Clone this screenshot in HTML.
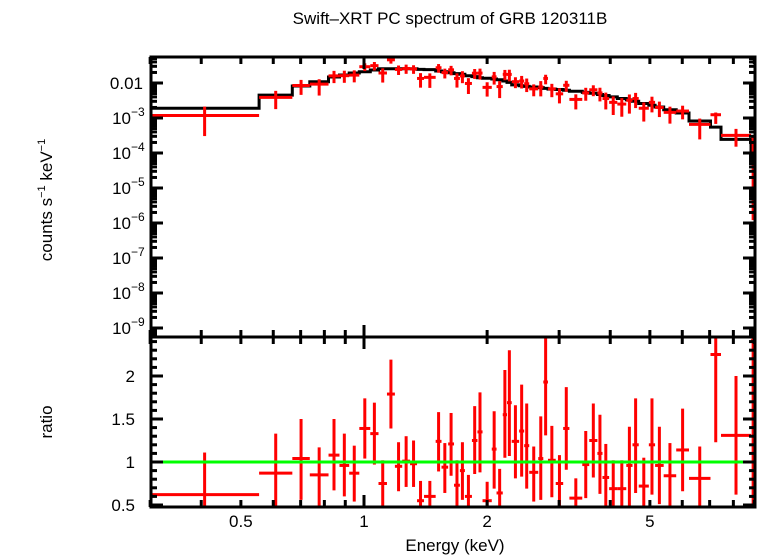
<!DOCTYPE html>
<html><head><meta charset="utf-8">
<style>
html,body{margin:0;padding:0;background:#fff;}
svg{display:block;font-family:"Liberation Sans",sans-serif;}
</style></head>
<body>
<svg id="chart" width="758" height="556" viewBox="0 0 758 556" xmlns="http://www.w3.org/2000/svg">
<text x="450" y="24" font-size="17" text-anchor="middle">Swift–XRT PC spectrum of GRB 120311B</text>
<text transform="translate(52,200) rotate(-90)" font-size="17" text-anchor="middle">counts s<tspan font-size="11" dy="-7">−1</tspan><tspan dy="7"> keV</tspan><tspan font-size="11" dy="-7">−1</tspan></text>
<text transform="translate(52,422) rotate(-90)" font-size="17" text-anchor="middle">ratio</text>
<text x="455" y="551" font-size="17" text-anchor="middle">Energy (keV)</text>
<g id="marks"></g>
<g id="axes"></g>
</svg>
<script>
const binEdges=[0.300,0.554,0.668,0.737,0.819,0.871,0.920,0.974,1.036,1.085,1.138,1.190,1.240,1.296,1.348,1.402,1.497,1.547,1.606,1.660,1.716,1.765,1.836,1.894,1.949,2.053,2.109,2.184,2.237,2.297,2.395,2.464,2.535,2.667,2.744,2.817,2.943,3.069,3.178,3.417,3.554,3.721,3.829,3.975,4.163,4.378,4.534,4.696,4.971,5.149,5.404,5.799,6.232,7.033,7.462,8.836,9.05];
const modelCounts=[1.9e-3,4.5e-3,8.2e-3,0.0109,0.0148,0.0169,0.0193,0.021,0.0235,0.0257,0.0257,0.0257,0.0257,0.0257,0.0245,0.0241,0.0220,0.0211,0.0197,0.0185,0.0177,0.0162,0.0152,0.0142,0.0136,0.0130,0.0124,0.0114,0.0104,8.8e-3,8.4e-3,8.0e-3,7.7e-3,7.4e-3,7.0e-3,6.7e-3,6.5e-3,6.2e-3,5.8e-3,5.4e-3,5.1e-3,4.7e-3,4.4e-3,4.0e-3,3.6e-3,3.3e-3,3.0e-3,2.6e-3,2.3e-3,2.06e-3,1.73e-3,1.39e-3,8.2e-4,5.5e-4,2.45e-4,1.2e-4];
const dataCounts=[1.18e-3,3.9e-3,8.5e-3,9.3e-3,0.0160,0.0162,0.0168,0.0292,0.0313,0.0193,0.0460,0.0244,0.0260,0.0252,0.0135,0.0145,0.0273,0.0198,0.0238,0.0135,0.0159,0.0097,0.0190,0.0192,0.0075,0.0150,0.0079,0.0177,0.0176,0.0109,0.0114,9.5e-3,6.8e-3,7.7e-3,0.0135,6.8e-3,4.9e-3,8.6e-3,3.4e-3,5.2e-3,6.4e-3,5.2e-3,3.6e-3,2.8e-3,2.5e-3,3.2e-3,3.6e-3,1.9e-3,2.8e-3,2.0e-3,1.45e-3,1.58e-3,6.6e-4,1.24e-3,3.2e-4,2.9e-4];
const ratioVals=[0.62,0.87,1.04,0.85,1.08,0.96,0.87,1.39,1.33,0.75,1.79,0.95,1.01,0.98,0.55,0.60,1.24,0.94,1.21,0.73,0.90,0.60,1.25,1.35,0.55,1.15,0.64,1.55,1.69,1.24,1.36,1.19,0.88,1.04,1.93,1.02,0.75,1.39,0.58,0.97,1.25,1.10,0.82,0.69,0.69,0.96,1.20,0.72,1.20,0.96,0.84,1.14,0.81,2.25,1.31,2.41];
const ratioLo=[0.16,0.4,0.56,0.4,0.67,0.60,0.54,1.04,0.97,0.4,1.39,0.66,0.71,0.71,0.3,0.3,0.89,0.64,0.84,0.4,0.56,0.3,0.86,0.88,0.3,0.69,0.3,1.05,1.07,0.81,0.83,0.69,0.54,0.56,1.31,0.59,0.4,0.91,0.3,0.58,0.82,0.63,0.4,0.3,0.3,0.4,0.64,0.3,0.62,0.51,0.4,0.66,0.3,1.23,0.62,0.01];
const ratioHi=[1.11,1.33,1.50,1.17,1.50,1.33,1.19,1.74,1.69,1.02,2.19,1.23,1.30,1.25,0.78,0.78,1.58,1.22,1.57,1.02,1.23,0.85,1.65,1.81,0.77,1.59,0.92,2.07,2.30,1.66,1.90,1.68,1.18,1.53,2.46,1.42,1.08,1.87,0.81,1.36,1.68,1.55,1.21,1.02,1.02,1.41,1.74,1.05,1.74,1.41,1.22,1.62,1.18,2.60,2.00,2.60];
const topTickLabels=["0.01","10","10","10","10","10","10","10"];
const topTickExps=["","−3","−4","−5","−6","−7","−8","−9"];
const ratioTicks=[0.5,1,1.5,2];
const xTickLabels=[0.5,1,2,5];

const L=151,R=755,T=57,MID=337,B=507;
const lx=e=>364+409*Math.log10(e);
const yTop=v=>83-35*(Math.log10(v)+2);
const yBot=r=>462-86*(r-1);
const NS="http://www.w3.org/2000/svg";
const marks=document.getElementById('marks'),axes=document.getElementById('axes');
function mk(tag,attrs,parent){const e=document.createElementNS(NS,tag);for(const k in attrs)e.setAttribute(k,attrs[k]);parent.appendChild(e);return e;}
const clampT=y=>Math.max(T,Math.min(MID,y));
const clampB=y=>Math.max(MID,Math.min(B,y));

let d="";
for(let i=0;i<modelCounts.length;i++){
  const x0=Math.max(L,lx(binEdges[i])),x1=Math.min(R,lx(binEdges[i+1])),y=clampT(yTop(modelCounts[i]));
  d+=(i===0?"M":"L")+x0.toFixed(1)+","+y.toFixed(1)+"L"+x1.toFixed(1)+","+y.toFixed(1);
}
d+="L"+R+","+MID;
const modelPath=mk('path',{d:d,fill:"none",stroke:"#000","stroke-width":3},marks);



for(let i=0;i<dataCounts.length;i++){
  const x0=Math.max(L,lx(binEdges[i])),x1=Math.min(R,lx(binEdges[i+1]));
  const xc=lx(Math.sqrt(binEdges[i]*binEdges[i+1]));
  const xcc=Math.min(R-1,xc);
  const g=mk('g',{stroke:"#f00","stroke-width":3},marks);
  
  
  const c=dataCounts[i],y=clampT(yTop(c));
  const lo=c*ratioLo[i]/ratioVals[i],hi=c*ratioHi[i]/ratioVals[i];
  mk('line',{x1:x0,x2:x1,y1:y,y2:y},g);
  mk('line',{x1:xcc,x2:xcc,y1:clampT(yTop(hi)),y2:clampT(yTop(lo))},g);
  const g2=mk('g',{stroke:"#f00","stroke-width":3},marks);
  
  
  const yr=clampB(yBot(ratioVals[i]));
  mk('line',{x1:x0,x2:x1,y1:yr,y2:yr},g2);
  mk('line',{x1:xcc,x2:xcc,y1:clampB(yBot(ratioHi[i])),y2:clampB(yBot(ratioLo[i]))},g2);
}
const unity=mk('line',{x1:L,x2:R,y1:yBot(1),y2:yBot(1),stroke:"#0f0","stroke-width":3},marks);



const f1=mk('rect',{x:L,y:T,width:R-L,height:MID-T,fill:"none",stroke:"#000","stroke-width":3},axes);


const f2=mk('rect',{x:L,y:MID,width:R-L,height:B-MID,fill:"none",stroke:"#000","stroke-width":3},axes);



const tk=mk('g',{stroke:"#000","stroke-width":3},axes);


for(let dec=0.1;dec<=1;dec*=10){
  for(let m=1;m<=9;m++){
    const e=m*dec;if(e<0.3||e>9.05)continue;
    const x=lx(e);const len=(Math.abs(e-1)<1e-6)?12:7;
    [T,MID,B].forEach(yy=>{
      if(yy!==T)mk('line',{x1:x,x2:x,y1:yy,y2:yy-len},tk);
      if(yy!==B)mk('line',{x1:x,x2:x,y1:yy,y2:yy+len},tk);
    });
  }
}
xTickLabels.forEach(v=>{
  const t=mk('text',{x:lx(v),y:527,"font-size":17,"text-anchor":"middle"},axes);
  t.textContent=String(v);
  
  
});
const ty=mk('g',{stroke:"#000","stroke-width":3},axes);


for(let p=-10;p<=-1;p++){
  for(let m=1;m<=9;m++){
    const v=m*Math.pow(10,p);const y=yTop(v);if(y<T||y>MID)continue;
    const len=m===1?12:6;
    mk('line',{x1:L,x2:L+len,y1:y,y2:y},ty);
    mk('line',{x1:R,x2:R-len,y1:y,y2:y},ty);
  }
}
topTickLabels.forEach((s,i)=>{
  const y=yTop(Math.pow(10,-2-i));
  const t=mk('text',{x:i===0?143:131,y:y+6,"font-size":17,"text-anchor":"end"},axes);
  t.textContent=s;
  
  
  if(topTickExps[i]){
    const e=mk('text',{x:131,y:y-2,"font-size":12,"text-anchor":"start"},axes);
    e.textContent=topTickExps[i];
    
    
  }
});
const by=mk('g',{stroke:"#000","stroke-width":3},axes);


for(let k=5;k<=24;k++){
  const r=k/10,y=yBot(r);if(y<MID||y>B)continue;
  const len=(k%5===0)?12:6;
  mk('line',{x1:L,x2:L+len,y1:y,y2:y},by);
  mk('line',{x1:R,x2:R-len,y1:y,y2:y},by);
}
ratioTicks.forEach(v=>{
  const t=mk('text',{x:135,y:yBot(v)+6,"font-size":17,"text-anchor":"end"},axes);
  t.textContent=String(v);
  
  
});
</script>
</body></html>
